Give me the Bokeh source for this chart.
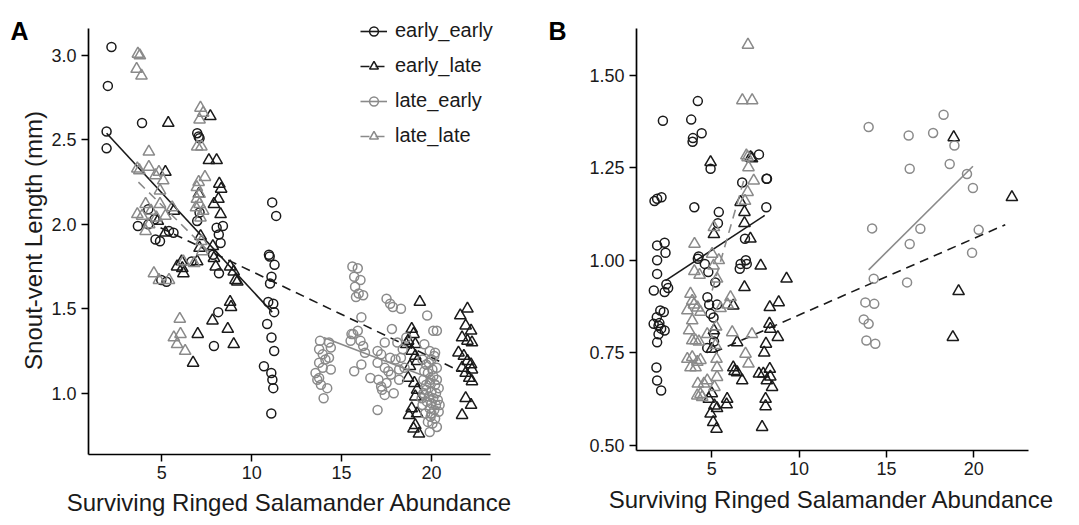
import math
from bokeh.plotting import figure
from bokeh.layouts import row
from bokeh.models import Legend, LegendItem, Label, Range1d, FixedTicker, NumeralTickFormatter
from bokeh.embed import file_html
from bokeh.resources import INLINE

FONT = "Liberation Sans"
BLACK = "#1a1a1a"
GREY = "#8a8a8a"

# ---------------- Panel A: snout-vent length ----------------
a_ee_x = [2.2, 2.0, 1.93, 1.93, 3.9, 3.67, 4.25, 4.25, 4.6, 4.65, 4.97, 5.4, 5.65, 4.9, 5.26,
          6.97, 7.05, 7.1, 6.97, 7.1, 6.66, 8.05, 8.17, 8.27, 8.4, 8.18, 8.14, 7.9, 7.85,
          11.14, 11.36, 10.96, 11.0, 11.02, 11.1, 11.27, 10.92, 11.2, 11.25, 10.86, 11.1, 11.25,
          10.68, 11.09, 11.15, 11.2, 11.09]
a_ee_y = [3.05, 2.82, 2.55, 2.45, 2.60, 1.99, 2.09, 2.00, 2.03, 1.91, 1.67, 1.96, 1.95, 1.90, 1.66,
          2.54, 2.52, 2.51, 2.02, 2.07, 1.78, 1.98, 1.94, 1.89, 1.99, 1.71, 1.48, 1.28, 1.82,
          2.13, 2.05, 1.82, 1.81, 1.65, 1.69, 1.76, 1.54, 1.53, 1.48, 1.41, 1.33, 1.25,
          1.16, 1.12, 1.08, 1.03, 0.88]

a_el_x = [5.36, 5.2, 5.67, 4.78, 5.2, 5.85, 6.1, 6.14, 6.2, 6.97, 7.16, 7.06, 7.1,
          7.7, 7.62, 8.05, 8.2, 8.3, 8.15, 8.27, 7.9, 7.84, 7.9, 8.0, 8.8, 9.0, 9.1, 9.2,
          8.8, 8.85, 8.67, 9.0, 7.82, 7.0, 6.74,
          19.35, 18.9, 19.0, 18.7, 19.1, 18.6, 18.9, 19.1, 19.2, 18.8, 18.7, 19.05, 19.2, 19.1,
          18.9, 19.2, 19.1, 19.0, 19.3, 18.75,
          22.0, 21.6, 21.9, 22.2, 21.7, 22.0, 22.25, 21.5, 21.8, 22.0, 22.2, 21.7, 22.25, 21.9,
          22.1, 22.25, 21.9, 22.2, 21.7]
a_el_y = [2.60, 2.31, 2.08, 2.02, 1.95, 1.75, 1.78, 1.74, 1.71, 1.78, 1.93, 2.18, 1.86,
          2.64, 2.38, 2.38, 2.24, 2.21, 2.15, 2.06, 2.12, 1.87, 1.80, 1.75, 1.75, 1.72, 1.67, 1.66,
          1.54, 1.51, 1.38, 1.29, 1.43, 1.35, 1.18,
          1.54, 1.38, 1.35, 1.31, 1.29, 1.29, 1.25, 1.22, 1.19, 1.16, 1.09, 1.06, 1.02, 0.98,
          0.91, 0.88, 0.81, 0.79, 0.76, 0.87,
          1.50, 1.46, 1.40, 1.37, 1.33, 1.31, 1.30, 1.24, 1.22, 1.19, 1.17, 1.15, 1.14, 1.12,
          1.09, 1.07, 0.97, 0.93, 0.87]

a_le_x = [13.8, 14.3, 14.4, 13.75, 13.95, 14.1, 13.75, 13.95, 14.4, 13.55, 13.75, 13.85, 14.2, 14.0, 13.65, 14.3,
          15.6, 15.9, 15.7, 16.05, 15.75, 15.95, 16.2, 15.8, 16.1, 15.9, 15.65, 16.05, 16.2, 15.5, 16.1, 15.7, 15.55, 16.3,
          17.5, 17.7, 17.85, 18.3, 17.8, 17.4, 17.0, 17.2, 17.0, 17.4, 17.7, 18.0, 16.6, 17.05, 17.2, 17.4, 17.0,
          17.25, 17.9, 17.6, 18.2, 18.3, 17.75, 17.5, 18.1, 18.4, 18.6, 18.5, 18.2,
          19.76, 19.6, 20.1, 20.3, 19.9, 20.2, 19.5, 19.7, 20.0, 20.3, 19.6, 19.8, 20.1, 20.3, 19.55, 19.9,
          20.2, 20.4, 19.7, 20.0, 19.6, 19.85, 20.1, 20.35, 19.75, 20.0, 20.25, 19.5, 19.9, 20.15, 20.4,
          19.65, 19.95, 20.2, 19.8, 20.05, 20.3, 19.9, 19.7, 20.05, 19.85, 20.25, 19.55, 20.45, 19.95,
          20.15, 19.45, 20.0]
a_le_y = [1.31, 1.30, 1.27, 1.26, 1.23, 1.20, 1.18, 1.15, 1.14, 1.12, 1.09, 1.05, 1.03, 0.97, 1.08, 1.21,
          1.75, 1.74, 1.69, 1.67, 1.63, 1.59, 1.58, 1.57, 1.45, 1.37, 1.35, 1.31, 1.28, 1.31, 1.17, 1.13, 1.35, 1.24,
          1.56, 1.53, 1.51, 1.50, 1.38, 1.30, 1.25, 1.23, 1.18, 1.15, 1.21, 1.20, 1.09, 1.08, 1.04, 0.99, 0.90,
          1.02, 1.00, 1.13, 1.14, 1.21, 1.11, 1.06, 1.30, 1.26, 1.33, 1.15, 1.08,
          1.46, 1.29, 1.37, 1.37, 1.25, 1.24, 1.20, 1.17, 1.20, 1.15, 1.13, 1.12, 1.10, 1.08, 1.08, 1.06,
          1.05, 1.03, 1.02, 1.01, 0.99, 0.98, 0.97, 0.96, 0.95, 0.94, 0.93, 0.93, 0.91, 0.90, 0.89,
          0.88, 0.86, 0.85, 0.83, 0.82, 0.80, 0.77, 1.05, 1.14, 1.18, 1.00, 1.00, 0.93, 1.08,
          1.22, 0.97, 0.88]

a_ll_x = [3.67, 3.78, 3.6, 3.87, 4.28, 4.28, 3.64, 3.75, 4.84, 4.65, 5.08, 4.9, 3.64, 4.1, 4.9, 4.4,
          4.1, 5.58, 5.2, 4.7, 3.9, 4.3, 4.56, 4.84, 5.4, 6.0, 6.04, 5.67, 5.85, 6.3,
          7.15, 7.3, 7.1, 6.97, 7.2, 7.05, 6.95, 7.1, 6.95, 7.1, 7.15, 7.3, 6.9, 7.2, 6.8, 7.25, 7.4, 6.2]
a_ll_y = [3.01, 3.00, 2.92, 2.88, 2.43, 2.34, 2.33, 2.32, 2.31, 2.29, 2.26, 2.20, 2.06, 2.12, 2.12, 2.08,
          1.96, 2.10, 2.05, 2.04, 2.05, 2.00, 1.71, 1.67, 1.67, 1.44, 1.35, 1.33, 1.29, 1.25,
          2.69, 2.66, 2.62, 2.46, 2.46, 2.25, 2.22, 2.18, 2.15, 2.12, 2.04, 2.08, 2.10, 1.90, 1.77, 1.84, 2.28, 1.78]

# fitted trend lines (start, end)
a_fit_ee = ([1.93, 11.14], [2.54, 1.48])
a_fit_el = ([4.93, 21.6], [1.98, 1.13])
a_fit_le = ([14.0, 20.4], [1.33, 1.07])
a_fit_ll = ([3.7, 7.7], [2.25, 1.83])

# ---------------- Panel B ----------------
b_ee_x = [2.2, 1.72, 1.87, 2.12, 1.87, 2.3, 2.35, 1.87, 1.87, 1.68, 2.3, 2.5, 2.25, 2.05, 1.85, 1.67,
          1.95, 2.1, 2.3, 1.95, 1.87, 1.83, 1.87, 2.1, 2.4, 2.0,
          4.2, 3.82, 3.92, 4.42, 3.9, 4.0, 4.93, 4.2, 4.25, 4.8, 5.2, 4.75, 4.85, 4.93, 5.4, 5.35,
          5.13, 4.74, 5.13, 4.6, 5.3, 5.1,
          6.74, 6.9, 6.95, 7.0, 6.65, 6.6, 7.7, 8.13, 8.16, 8.12]
b_ee_y = [1.377, 1.16, 1.166, 1.17, 1.04, 1.047, 1.02, 1.0, 0.963, 0.918, 0.914, 0.925, 0.86, 0.864, 0.846, 0.828,
          0.823, 0.815, 0.81, 0.80, 0.778, 0.71, 0.675, 0.648, 0.935, 0.83,
          1.43, 1.38, 1.33, 1.343, 1.32, 1.143, 1.247, 1.004, 1.01, 0.968, 0.94, 0.90, 0.88, 0.855, 1.13, 1.10,
          0.80, 0.763, 0.78, 0.99, 0.88, 0.845,
          1.21, 1.058, 1.0, 0.99, 0.99, 0.977, 1.286, 1.22, 1.22, 1.143]

b_el_x = [4.93, 5.12, 5.12, 5.0, 4.83, 4.93, 5.08, 5.27, 5.15, 5.88, 5.85, 5.0, 5.3,
          6.65, 6.87, 6.87, 7.21, 6.87, 6.23, 6.45, 6.23, 6.45, 6.74, 7.22, 7.3, 6.3,
          7.8, 8.32, 8.83, 9.28, 8.3, 8.35, 8.78, 8.1, 8.0, 7.7, 7.95, 8.32, 8.35, 8.45, 8.15, 8.08, 8.08, 7.88,
          18.85, 22.18, 19.13, 18.8]
b_el_y = [1.265, 1.07, 0.81, 0.76, 0.625, 0.585, 0.562, 0.544, 0.607, 0.625, 0.61, 0.64, 0.60,
          1.157, 1.13, 1.10, 1.058, 0.927, 0.877, 0.778, 0.71, 0.697, 0.675, 1.278, 1.275, 0.70,
          0.985, 0.873, 0.886, 0.95, 0.828, 0.814, 0.792, 0.774, 0.75, 0.693, 0.693, 0.706, 0.685, 0.657, 0.675,
          0.625, 0.605, 0.549,
          1.332, 1.17, 0.916, 0.792]

b_le_x = [13.98, 14.18, 14.27, 13.79, 14.3, 13.7, 13.98, 13.85, 14.36, 16.27, 16.33, 16.33, 16.94, 16.18,
          17.67, 18.27, 18.62, 18.89, 19.61, 19.95, 20.28, 19.9]
b_le_y = [1.36, 1.086, 0.95, 0.886, 0.882, 0.84, 0.828, 0.783, 0.774, 1.337, 1.247, 1.044, 1.085, 0.94,
          1.344, 1.393, 1.26, 1.31, 1.233, 1.195, 1.082, 1.02]

b_ll_x = [7.07, 6.75, 7.31, 6.98, 7.05, 7.1, 7.4, 7.05, 6.9,
          4.01, 5.12, 5.02, 5.1, 5.3, 6.07, 5.9, 3.78, 3.88, 3.98, 4.18, 3.6, 4.35, 3.88, 3.7, 3.88, 4.07,
          4.26, 4.74, 3.6, 3.88, 4.17, 4.35, 3.78, 4.07, 4.2, 4.55, 4.17, 4.35, 4.45, 5.21, 5.27, 5.3, 5.3,
          4.74, 5.15, 6.17, 6.93, 7.1, 7.3, 5.5, 5.25, 4.0, 4.3, 5.4]
b_ll_y = [1.582, 1.432, 1.432, 1.283, 1.278, 1.251, 1.215, 1.184, 1.16,
          1.044, 1.089, 1.017, 0.985, 0.95, 0.90, 0.88, 0.909, 0.89, 0.88, 0.872, 0.864, 0.86, 0.837, 0.81,
          0.783, 0.783, 0.78, 0.80, 0.733, 0.738, 0.725, 0.73, 0.71, 0.71, 0.666, 0.666, 0.634, 0.638, 0.63,
          0.77, 0.733, 0.71, 0.684, 0.675, 0.657, 0.805, 0.747, 0.72, 0.80, 0.87, 0.82, 0.97, 0.96, 1.0]

b_fit_ee = ([2.35, 8.03], [0.945, 1.121])
b_fit_el = ([5.12, 21.8], [0.751, 1.096])
b_fit_le = ([13.98, 19.95], [0.974, 1.254])
b_fit_ll = ([5.02, 6.83], [0.918, 1.215])

x_ticks = [5, 10, 15, 20]
a_y_ticks = [1.0, 1.5, 2.0, 2.5, 3.0]
b_y_ticks = [0.50, 0.75, 1.00, 1.25, 1.50]
groups = ["early_early", "early_late", "late_early", "late_late"]
x_title = "Surviving Ringed Salamander Abundance"
a_y_title = "Snout-vent Length (mm)"

H = 525


def panel(width, x_map, y_map, x_bounds, y_bounds, yticks, yfmt, series, fits,
          letter, x_title_pos, y_title_pos=None, y_title=None):
    # x_map / y_map: (value, pixel from left/top, pixels per unit); the frame fills the
    # whole canvas and the axes are pinned at the lower-left corner of the data area
    xv, xp, xk = x_map
    yv, yp, yk = y_map
    x_range = Range1d(xv - xp / xk, xv + (width - xp) / xk)
    y_range = Range1d(yv - (H - yp) / yk, yv + yp / yk)
    p = figure(width=width, height=H, output_backend="svg", toolbar_location=None,
               x_range=x_range, y_range=y_range,
               min_border_left=0, min_border_right=0, min_border_top=0, min_border_bottom=0)
    p.outline_line_color = None
    p.grid.visible = False
    p.background_fill_color = "white"
    p.border_fill_color = "white"
    p.xaxis.fixed_location = y_bounds[0]
    p.yaxis.fixed_location = x_bounds[0]
    p.xaxis.bounds = x_bounds
    p.yaxis.bounds = y_bounds
    for ax in (p.xaxis[0], p.yaxis[0]):
        ax.axis_line_width = 1.7
        ax.axis_line_color = "black"
        ax.major_tick_line_color = "black"
        ax.major_tick_line_width = 1.5
        ax.major_tick_out = 7
        ax.major_tick_in = 0
        ax.minor_tick_line_color = None
        ax.major_label_text_font = FONT
        ax.major_label_text_font_size = "18px"
        ax.major_label_text_color = "#1a1a1a"
        ax.major_label_standoff = 5
    p.xaxis.ticker = FixedTicker(ticks=x_ticks)
    p.yaxis.ticker = FixedTicker(ticks=yticks)
    p.yaxis.formatter = NumeralTickFormatter(format=yfmt)

    styles = {
        "early_early": (BLACK, "circle", 9, "solid"),
        "early_late": (BLACK, "triangle", 11.5, "dashed"),
        "late_early": (GREY, "circle", 9, "solid"),
        "late_late": (GREY, "triangle", 11.5, "dashed"),
    }
    items = []
    for g in groups:
        color, marker, size, dash = styles[g]
        sx, sy = series[g]
        sc = p.scatter(sx, sy, marker=marker, size=size, fill_color=None,
                       line_color=color, line_width=1.5)
        fx, fy = fits[g]
        ln = p.line(fx, fy, line_color=color, line_width=1.6,
                    line_dash="9 6" if dash == "dashed" else "solid")
        items.append(LegendItem(label=g, renderers=[ln, sc]))

    # axis titles and panel letter (screen positions measured from the top-left)
    tx, ty = x_title_pos
    p.add_layout(Label(x=tx, y=H - ty, x_units="screen", y_units="screen", text=x_title,
                       text_font=FONT, text_font_size="24px", text_color="#1a1a1a",
                       text_align="center", text_baseline="middle"))
    if y_title:
        qx, qy = y_title_pos
        p.add_layout(Label(x=qx, y=H - qy, x_units="screen", y_units="screen", text=y_title,
                           angle=math.pi / 2, text_font=FONT, text_font_size="24px",
                           text_color="#1a1a1a", text_align="center", text_baseline="middle"))
    lx, ly = letter[1]
    p.add_layout(Label(x=lx, y=H - ly, x_units="screen", y_units="screen", text=letter[0],
                       text_font=FONT, text_font_size="25px", text_font_style="bold",
                       text_color="black", text_align="left", text_baseline="alphabetic"))
    return p, items


pa, items_a = panel(540, (5, 161.3, 17.98), (1.0, 392.7, 168.85),
                    (0.92, 23.28), (0.637, 3.16), a_y_ticks, "0.0",
                    {"early_early": (a_ee_x, a_ee_y), "early_late": (a_el_x, a_el_y),
                     "late_early": (a_le_x, a_le_y), "late_late": (a_ll_x, a_ll_y)},
                    {"early_early": a_fit_ee, "early_late": a_fit_el,
                     "late_early": a_fit_le, "late_late": a_fit_ll},
                    ("A", (10, 30)), (289, 502), (33, 240), a_y_title)

legend = Legend(items=items_a, location=(360, 378), orientation="vertical",
                label_text_font=FONT, label_text_font_size="20px", label_text_color="#1a1a1a",
                glyph_width=27, glyph_height=22, label_height=22, label_standoff=8,
                spacing=12, padding=0, margin=0,
                background_fill_alpha=0, border_line_color=None)
pa.add_layout(legend, "center")

pb, _ = panel(539, (5, 171.3, 17.467), (1.0, 259.7, 370.0),
              (0.69, 23.13), (0.486, 1.627), b_y_ticks, "0.00",
              {"early_early": (b_ee_x, b_ee_y), "early_late": (b_el_x, b_el_y),
               "late_early": (b_le_x, b_le_y), "late_late": (b_ll_x, b_ll_y)},
              {"early_early": b_fit_ee, "early_late": b_fit_el,
               "late_early": b_fit_le, "late_late": b_fit_ll},
              ("B", (8, 30)), (291, 499))

layout = row(pa, pb)
open("out.html", "w").write(file_html(layout, INLINE))
